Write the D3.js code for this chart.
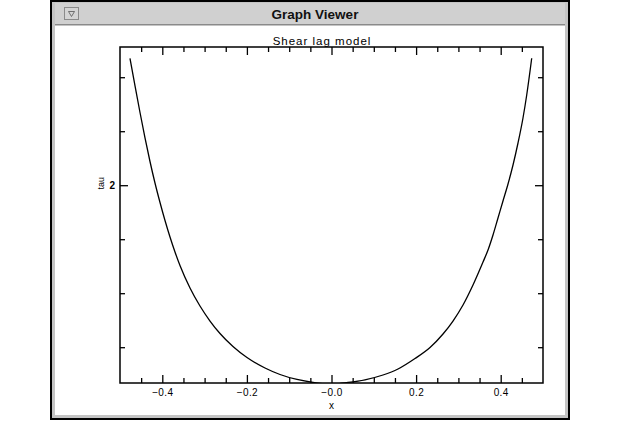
<!DOCTYPE html>
<html>
<head>
<meta charset="utf-8">
<script src="https://cdn.jsdelivr.net/npm/d3@7"></script>
<style>
  html, body { margin: 0; padding: 0; background: #ffffff; }
  svg { display: block; }
  text { font-family: "Liberation Sans", Helvetica, Arial, sans-serif; }
</style>
</head>
<body>
<div id="chart"></div>
<script>
// ---- data ----
const xValues = [-0.4764, -0.4645, -0.4527, -0.4409, -0.4291, -0.4173, -0.4054, -0.3936, -0.3818, -0.3700,
  -0.3582, -0.3345, -0.3109, -0.2872, -0.2636, -0.2329, -0.1998, -0.1572, -0.1217, -0.0816,
  -0.0437, 0.0000,
  0.0390, 0.0792, 0.1217, 0.1572, 0.1974, 0.2329, 0.2636, 0.2872, 0.3109, 0.3345,
  0.3582, 0.3700, 0.3818, 0.3936, 0.4054, 0.4173, 0.4291, 0.4409, 0.4527, 0.4615, 0.4733];
const tauValues = [2.4701, 2.3675, 2.2693, 2.1749, 2.0878, 2.0082, 1.9360, 1.8693, 1.8082, 1.7526,
  1.7026, 1.6193, 1.5526, 1.4970, 1.4507, 1.4026, 1.3618, 1.3230, 1.2989, 1.2804,
  1.2693, 1.2630,
  1.2693, 1.2793, 1.2970, 1.3193, 1.3581, 1.3989, 1.4489, 1.4970, 1.5563, 1.6304,
  1.7156, 1.7600, 1.8156, 1.8785, 1.9415, 2.0045, 2.0749, 2.1563, 2.2489, 2.3341, 2.4701];

const xMajorTicks = [-0.4, -0.2, 0.0, 0.2, 0.4];
const xTickLabels = ["\u22120.4", "\u22120.2", "\u22120.0", "0.2", "0.4"];
const xMinorTicks = [-0.45, -0.35, -0.30, -0.25, -0.15, -0.10, -0.05, 0.05, 0.10, 0.15, 0.25, 0.30, 0.35, 0.45];
const yMajorTicks = [2];
const yTickLabels = ["2"];
const yMinorTicks = [1.4, 1.6, 1.8, 2.2, 2.4];
const xDomain = [-0.5, 0.5];
const yDomain = [1.2674, 2.5119];

const windowTitle = "Graph Viewer";
const chartTitle = "Shear lag model";
const xLabel = "x";
const yLabel = "tau";

// ---- drawing ----
const W = 623, H = 425;
const svg = d3.select("#chart").append("svg").attr("width", W).attr("height", H);

// window chrome
const win = svg.append("g");
win.append("rect").attr("x", 50).attr("y", 0).attr("width", 520).attr("height", 420).attr("fill", "#000");
win.append("rect").attr("x", 52).attr("y", 2).attr("width", 516).attr("height", 416).attr("fill", "#c4c4c4");
win.append("rect").attr("x", 55).attr("y", 3).attr("width", 510).attr("height", 21).attr("fill", "#d0d0d0");
win.append("line").attr("x1", 55).attr("x2", 565).attr("y1", 24.5).attr("y2", 24.5).attr("stroke", "#8a8a8a");
win.append("rect").attr("x", 55).attr("y", 26).attr("width", 510).attr("height", 389).attr("fill", "#ffffff");
// menu button
win.append("rect").attr("x", 64.5).attr("y", 7.5).attr("width", 14).attr("height", 12)
  .attr("fill", "#d4d4d4").attr("stroke", "#8a8a8a");
win.append("path").attr("d", "M68.5,11.5 L74.5,11.5 L71.5,16.5 Z").attr("fill", "none").attr("stroke", "#555").attr("stroke-width", 0.8);
win.append("text").attr("x", 315).attr("y", 18.5).attr("text-anchor", "middle")
  .attr("font-size", 13.5).attr("font-weight", "bold").attr("fill", "#111").text(windowTitle);

// plot
const pL = 120, pR = 543, pT = 47, pB = 383;
const x = d3.scaleLinear().domain(xDomain).range([pL, pR]);
const y = d3.scaleLinear().domain(yDomain).range([pB, pT]);

svg.append("defs").append("clipPath").attr("id", "plotclip")
  .append("rect").attr("x", pL).attr("y", pT).attr("width", pR - pL).attr("height", pB - pT);

const lineGen = d3.line().x(d => x(d[0])).y(d => y(d[1])).curve(d3.curveMonotoneX);
const pts = xValues.map((v, i) => [v, tauValues[i]]);
svg.append("path").datum(pts).attr("d", lineGen).attr("clip-path", "url(#plotclip)")
  .attr("fill", "none").attr("stroke", "#000").attr("stroke-width", 1.3);

function styleAxis(g) {
  g.select(".domain").remove();
  g.selectAll(".tick line").attr("stroke", "#000").attr("stroke-width", 1.3);
  g.selectAll(".tick text").attr("fill", "#000").attr("font-family", "'Liberation Sans', Helvetica, Arial, sans-serif");
}

// bottom axis: major with labels
svg.append("g").attr("transform", `translate(0,${pB})`)
  .call(d3.axisBottom(x).tickValues(xMajorTicks).tickSizeInner(-8).tickSizeOuter(0).tickPadding(6)
    .tickFormat((d, i) => xTickLabels[i]))
  .call(styleAxis)
  .call(g => g.selectAll(".tick text").attr("font-size", 10).attr("letter-spacing", 0.4));
svg.append("g").attr("transform", `translate(0,${pB})`)
  .call(d3.axisBottom(x).tickValues(xMinorTicks).tickSizeInner(-5).tickSizeOuter(0).tickFormat(""))
  .call(styleAxis);
// top axis
svg.append("g").attr("transform", `translate(0,${pT})`)
  .call(d3.axisTop(x).tickValues(xMajorTicks).tickSizeInner(-8).tickSizeOuter(0).tickFormat(""))
  .call(styleAxis);
svg.append("g").attr("transform", `translate(0,${pT})`)
  .call(d3.axisTop(x).tickValues(xMinorTicks).tickSizeInner(-5).tickSizeOuter(0).tickFormat(""))
  .call(styleAxis);
// left axis
svg.append("g").attr("transform", `translate(${pL},0)`)
  .call(d3.axisLeft(y).tickValues(yMajorTicks).tickSizeInner(-8).tickSizeOuter(0).tickPadding(5)
    .tickFormat((d, i) => yTickLabels[i]))
  .call(styleAxis)
  .call(g => g.selectAll(".tick text").attr("font-size", 10).attr("font-weight", "bold"));
svg.append("g").attr("transform", `translate(${pL},0)`)
  .call(d3.axisLeft(y).tickValues(yMinorTicks).tickSizeInner(-5).tickSizeOuter(0).tickFormat(""))
  .call(styleAxis);
// right axis
svg.append("g").attr("transform", `translate(${pR},0)`)
  .call(d3.axisRight(y).tickValues(yMajorTicks).tickSizeInner(-8).tickSizeOuter(0).tickFormat(""))
  .call(styleAxis);
svg.append("g").attr("transform", `translate(${pR},0)`)
  .call(d3.axisRight(y).tickValues(yMinorTicks).tickSizeInner(-5).tickSizeOuter(0).tickFormat(""))
  .call(styleAxis);

// plot frame
svg.append("rect").attr("x", pL).attr("y", pT).attr("width", pR - pL).attr("height", pB - pT)
  .attr("fill", "none").attr("stroke", "#000").attr("stroke-width", 1.5);

// titles
svg.append("text").attr("x", 322).attr("y", 45).attr("text-anchor", "middle")
  .attr("font-size", 11.5).attr("letter-spacing", 1).attr("fill", "#000").text(chartTitle);
svg.append("text").attr("x", x(0)).attr("y", 409).attr("text-anchor", "middle")
  .attr("font-size", 10).attr("fill", "#000").text(xLabel);
svg.append("text").attr("transform", `translate(103.5,${y(2) - 2}) rotate(-90)`).attr("text-anchor", "middle")
  .attr("font-size", 9).attr("fill", "#000").text(yLabel);
</script>
</body>
</html>
